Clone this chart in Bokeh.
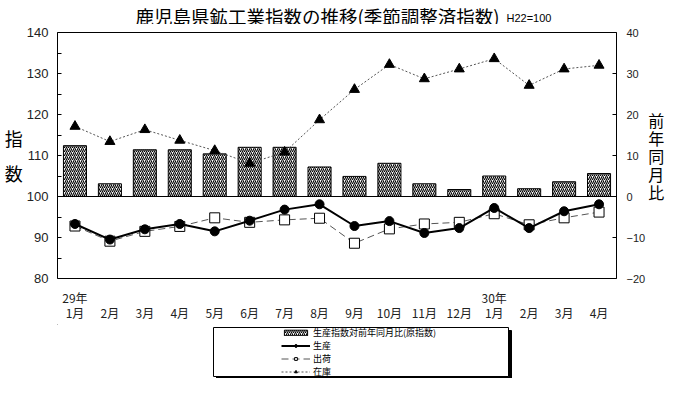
from bokeh.plotting import figure
from bokeh.models import (Range1d, LinearAxis, FixedTicker, Span, Legend,
                          LegendItem, ColumnDataSource)
from bokeh.layouts import column
from bokeh.core.properties import value
from bokeh.embed import file_html
from bokeh.resources import INLINE

# ---- data ----
months = ["1月", "2月", "3月", "4月", "5月", "6月", "7月", "8月", "9月", "10月",
          "11月", "12月", "1月", "2月", "3月", "4月"]
years = {0: "29年", 12: "30年"}
yoy = [12.4, 3.1, 11.4, 11.4, 10.4, 12.0, 12.0, 7.2, 4.9, 8.1, 3.1, 1.7, 5.0, 1.9, 3.6, 5.6]
prod = [93.3, 89.5, 92.0, 93.3, 91.5, 94.1, 96.8, 98.1, 92.8, 94.0, 91.1, 92.3, 97.2, 92.3, 96.4, 98.1]
ship = [92.8, 89.1, 91.5, 92.7, 94.8, 93.7, 94.3, 94.7, 88.6, 92.1, 93.3, 93.7, 95.8, 93.1, 94.8, 96.2]
inv = [117.1, 113.4, 116.3, 113.7, 111.2, 108.1, 110.8, 118.7, 126.1, 132.2, 128.7, 131.1, 133.6, 127.1, 131.1, 132.0]
left_ticks = [80, 90, 100, 110, 120, 130, 140]
left_minor = [85, 95, 105, 115, 125, 135]
right_ticks = [-20, -10, 0, 10, 20, 30, 40]
title_text = "鹿児島県鉱工業指数の推移(季節調整済指数)"
base_text = "H22=100"
legend_labels = ["生産指数対前年同月比(原指数)", "生産", "出荷", "在庫"]

JP = "Noto Sans CJK JP"
NUM = "Liberation Sans"
W = 684
BL, BR = 57, 68          # borders so that every strip shares the chart frame (x 57..616)
FX0, FX1 = BL, W - BR

# styles
BAR = dict(fill_color="white", line_color="black", line_width=1,
           hatch_pattern="/", hatch_color="black", hatch_scale=4, hatch_weight=1.1)
INV_L = dict(line_color="#555555", line_width=1, line_dash="2 2")
INV_M = dict(marker="triangle", fill_color="black", line_color="black")
SHIP_L = dict(line_color="#555555", line_width=1, line_dash="7 4")
SHIP_M = dict(marker="square", fill_color="white", line_color="black", line_width=1)
PROD_L = dict(line_color="black", line_width=2)
PROD_M = dict(marker="circle", fill_color="black", line_color="black")


def strip_fig(h, y0, y1):
    f = figure(width=W, height=h, output_backend="svg", toolbar_location=None, title=None,
               x_range=Range1d(FX0, FX1), y_range=Range1d(y0, y1),
               x_axis_location=None, y_axis_location=None,
               min_border_left=BL, min_border_right=BR, min_border_top=0, min_border_bottom=0)
    f.outline_line_color = None
    f.grid.visible = False
    return f


# ---- title strip (pixel rows 0..24) ----
tf = strip_fig(24, 24, 0)
tf.text(x=[135], y=[15.5], text=[title_text], text_font=value(JP), text_font_size="18.5px",
        text_baseline="middle", text_color="black")
tf.text(x=[506], y=[17], text=[base_text], text_font=value(NUM), text_font_size="11px",
        text_baseline="middle", text_color="black")

# ---- main chart (pixel rows 24..324) ----
x = list(range(len(months)))
src = ColumnDataSource(dict(x=x, yoy=yoy, prod=prod, ship=ship, inv=inv))

p = figure(width=W, height=300, output_backend="svg", toolbar_location=None,
           title=None, x_range=Range1d(-0.5, 15.5), y_range=Range1d(80, 140),
           min_border_left=BL, min_border_right=BR, min_border_top=8, min_border_bottom=46)
p.outline_line_color = "black"
p.outline_line_width = 1
p.grid.visible = False
p.extra_y_ranges = {"pct": Range1d(-20, 40)}

ya = p.yaxis[0]
ya.ticker = FixedTicker(ticks=left_ticks, minor_ticks=left_minor)
ya.major_tick_in = 4
ya.major_tick_out = 0
ya.minor_tick_in = 4
ya.minor_tick_out = 0
ya.axis_line_color = None
ya.major_label_standoff = 9
ya.major_label_text_font = NUM
ya.major_label_text_font_size = "13px"
ya.major_label_text_color = "#222222"
ya.axis_label = "指\n数"
ya.axis_label_orientation = "horizontal"
ya.axis_label_standoff = 1
ya.axis_label_text_font = JP
ya.axis_label_text_font_size = "18px"
ya.axis_label_text_font_style = "normal"
ya.axis_label_text_line_height = 1.33
ya.axis_label_text_color = "black"

ra = LinearAxis(y_range_name="pct", ticker=FixedTicker(ticks=right_ticks, minor_ticks=[]))
ra.major_tick_in = 4
ra.major_tick_out = 0
ra.axis_line_color = None
ra.major_label_standoff = 10
ra.major_label_text_font = NUM
ra.major_label_text_font_size = "11px"
ra.major_label_text_color = "#222222"
ra.axis_label = "前\n年\n同\n月\n比"
ra.axis_label_orientation = "horizontal"
ra.axis_label_standoff = 0
ra.axis_label_text_font = JP
ra.axis_label_text_font_size = "16px"
ra.axis_label_text_font_style = "normal"
ra.axis_label_text_line_height = 0.75
ra.axis_label_text_color = "black"
p.add_layout(ra, "right")

# x axis: month labels, with the year written above January
xa = p.xaxis[0]
xa.ticker = FixedTicker(ticks=x)
xa.major_label_overrides = {i: (years.get(i, " ") + "\n" + m) for i, m in enumerate(months)}
xa.major_tick_line_color = None
xa.minor_tick_line_color = None
xa.axis_line_color = None
xa.major_label_standoff = 4
xa.major_label_text_font = JP
xa.major_label_text_font_size = "12px"
xa.major_label_text_line_height = 0.9
xa.major_label_text_color = "#222222"

p.vbar(x="x", top="yoy", bottom=0, width=0.66, source=src, y_range_name="pct", **BAR)
p.add_layout(Span(location=100, dimension="width", line_color="black", line_width=1))
p.line("x", "inv", source=src, **INV_L)
p.scatter("x", "inv", source=src, size=10, **INV_M)
p.line("x", "ship", source=src, **SHIP_L)
p.scatter("x", "ship", source=src, size=10, **SHIP_M)
p.line("x", "prod", source=src, **PROD_L)
p.scatter("x", "prod", source=src, size=9, **PROD_M)

# ---- legend strip (pixel rows 324..378) ----
lf = strip_fig(54, 378, 324)
lf.quad(left=[216], right=[511], top=[330], bottom=[379], fill_color="black", line_color="black")
lf.quad(left=[213], right=[508], top=[327], bottom=[376], fill_color="white", line_color="black",
        line_width=1)
offscreen = ColumnDataSource(dict(x=[-1000], y=[-1000]))
r_bar = lf.vbar(x="x", top="y", width=1, source=offscreen, **BAR)
r_pl = lf.line("x", "y", source=offscreen, **PROD_L)
r_pm = lf.scatter("x", "y", source=offscreen, size=5, **PROD_M)
r_sl = lf.line("x", "y", source=offscreen, **SHIP_L)
r_sm = lf.scatter("x", "y", source=offscreen, size=5, **SHIP_M)
r_il = lf.line("x", "y", source=offscreen, **INV_L)
r_im = lf.scatter("x", "y", source=offscreen, size=5, **INV_M)

legend = Legend(items=[
    LegendItem(label=legend_labels[0], renderers=[r_bar]),
    LegendItem(label=legend_labels[1], renderers=[r_pl, r_pm]),
    LegendItem(label=legend_labels[2], renderers=[r_sl, r_sm]),
    LegendItem(label=legend_labels[3], renderers=[r_il, r_im]),
], location=(281 - FX0, 0), orientation="vertical", padding=0, margin=0, spacing=0,
    glyph_width=29, glyph_height=7, label_height=7, label_standoff=3,
    label_text_font=JP, label_text_font_size="9px", label_text_color="black",
    border_line_color=None, background_fill_alpha=0)
lf.add_layout(legend, "center")

layout = column(tf, p, lf, spacing=0)
open("out.html", "w").write(file_html(layout, INLINE))
